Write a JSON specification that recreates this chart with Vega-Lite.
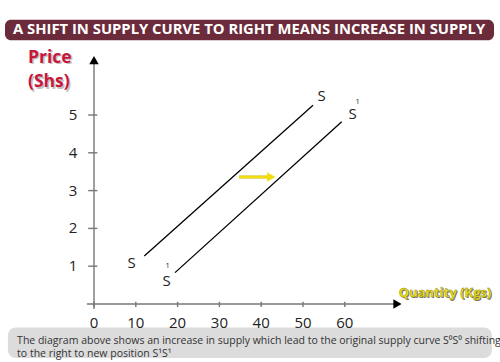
{
  "$schema": "https://vega.github.io/schema/vega-lite/v6.json",
  "width": 500,
  "height": 362,
  "padding": 0,
  "autosize": {"type": "none"},
  "background": "white",
  "config": {"view": {"stroke": null}},
  "datasets": {
    "banner": [{"x": -21.3, "x2": 95.7, "y": 7.52, "y2": 6.98}],
    "captionBox": [{"x": -20.6, "x2": 95.2, "y": -0.62, "y2": -1.43}],
    "title": [{"x": 37.1, "y": 7.25, "label": "A SHIFT IN SUPPLY CURVE TO RIGHT MEANS INCREASE IN SUPPLY"}],
    "axes": [
      {"x": 0, "x2": 0, "y": -0.13, "y2": 6.4},
      {"x": -1.7, "x2": 72, "y": 0, "y2": 0},
      {"x": -1.4, "x2": 0.8, "y": 1, "y2": 1},
      {"x": -1.4, "x2": 0.8, "y": 2, "y2": 2},
      {"x": -1.4, "x2": 0.8, "y": 3, "y2": 3},
      {"x": -1.4, "x2": 0.8, "y": 4, "y2": 4},
      {"x": -1.4, "x2": 0.8, "y": 5, "y2": 5},
      {"x": 0, "x2": 0, "y": -0.08, "y2": 0.06},
      {"x": 10, "x2": 10, "y": -0.08, "y2": 0.06},
      {"x": 20, "x2": 20, "y": -0.08, "y2": 0.06},
      {"x": 30, "x2": 30, "y": -0.08, "y2": 0.06},
      {"x": 40, "x2": 40, "y": -0.08, "y2": 0.06},
      {"x": 50, "x2": 50, "y": -0.08, "y2": 0.06},
      {"x": 60, "x2": 60, "y": -0.08, "y2": 0.06}
    ],
    "arrowUp": [{"x": 0, "y": 6.45}],
    "arrowRight": [{"x": 72.6, "y": 0}],
    "supply": [
      {"x": 12.03, "x2": 52.4, "y": 1.27, "y2": 5.26},
      {"x": 19.38, "x2": 59.26, "y": 0.83, "y2": 4.82}
    ],
    "xLabels": [
      {"x": 0, "y": -0.5, "label": "0"},
      {"x": 10, "y": -0.5, "label": "10"},
      {"x": 20, "y": -0.5, "label": "20"},
      {"x": 30, "y": -0.5, "label": "30"},
      {"x": 40, "y": -0.5, "label": "40"},
      {"x": 50, "y": -0.5, "label": "50"},
      {"x": 60, "y": -0.5, "label": "60"}
    ],
    "yLabels": [
      {"x": -5, "y": 1, "label": "1"},
      {"x": -5, "y": 2, "label": "2"},
      {"x": -5, "y": 3, "label": "3"},
      {"x": -5, "y": 4, "label": "4"},
      {"x": -5, "y": 5, "label": "5"}
    ],
    "sLabels": [
      {"x": 54.47, "y": 5.5, "label": "S"},
      {"x": 61.89, "y": 5.02, "label": "S"},
      {"x": 9.02, "y": 1.08, "label": "S"},
      {"x": 17.39, "y": 0.6, "label": "S"}
    ],
    "sups": [
      {"x": 63.1, "y": 5.34, "label": "1"},
      {"x": 17.63, "y": 1.0, "label": "1"}
    ],
    "yellowLine": [{"x": 34.7, "x2": 41.6, "y": 3.36, "y2": 3.36}],
    "yellowHead": [{"x": 42.4, "y": 3.36}],
    "priceLbl": [
      {"x": -15.8, "y": 6.52, "label": "Price"},
      {"x": -15.8, "y": 5.86, "label": "(Shs)"}
    ],
    "qtyLbl": [{"x": 84.0, "y": 0.29, "label": "Quantity (Kgs)"}],
    "caption": [
      {"x": -18.4, "y": -0.97, "label": "The diagram above shows an increase in supply which lead to  the original supply curve S⁰S⁰ shifting"},
      {"x": -18.4, "y": -1.32, "label": "to the right to new position S¹S¹"}
    ]
  },
  "encoding": {
    "x": {"field": "x", "type": "quantitative", "scale": {"domain": [-22.49, 97.13], "nice": false, "zero": false}, "axis": null},
    "y": {"field": "y", "type": "quantitative", "scale": {"domain": [-1.534, 8.042], "nice": false, "zero": false}, "axis": null}
  },
  "layer": [
    {"data": {"name": "banner"}, "mark": {"type": "rect", "color": "#6b2b3a", "cornerRadius": 6}, "encoding": {"x2": {"field": "x2"}, "y2": {"field": "y2"}}},
    {"data": {"name": "captionBox"}, "mark": {"type": "rect", "color": "#dcdcdc", "cornerRadius": 8}, "encoding": {"x2": {"field": "x2"}, "y2": {"field": "y2"}}},
    {"data": {"name": "title"}, "mark": {"type": "text", "color": "white", "font": "Open Sans", "fontWeight": "bold", "fontSize": 14.8, "align": "center", "baseline": "middle"}, "encoding": {"text": {"field": "label"}}},
    {"data": {"name": "axes"}, "mark": {"type": "rule", "color": "#777777", "strokeWidth": 1.4}, "encoding": {"x2": {"field": "x2"}, "y2": {"field": "y2"}}},
    {"data": {"name": "arrowUp"}, "mark": {"type": "point", "shape": "triangle-up", "filled": true, "color": "black", "size": 90, "opacity": 1}},
    {"data": {"name": "arrowRight"}, "mark": {"type": "point", "shape": "triangle-right", "filled": true, "color": "black", "size": 90, "opacity": 1}},
    {"data": {"name": "supply"}, "mark": {"type": "rule", "color": "black", "strokeWidth": 1.3}, "encoding": {"x2": {"field": "x2"}, "y2": {"field": "y2"}}},
    {"data": {"name": "xLabels"}, "mark": {"type": "text", "color": "#222222", "font": "Open Sans", "fontSize": 15, "align": "center", "baseline": "middle"}, "encoding": {"text": {"field": "label"}}},
    {"data": {"name": "yLabels"}, "mark": {"type": "text", "color": "#222222", "font": "Open Sans", "fontSize": 15, "align": "center", "baseline": "middle"}, "encoding": {"text": {"field": "label"}}},
    {"data": {"name": "sLabels"}, "mark": {"type": "text", "color": "#222222", "font": "Open Sans", "fontSize": 15, "align": "center", "baseline": "middle"}, "encoding": {"text": {"field": "label"}}},
    {"data": {"name": "sups"}, "mark": {"type": "text", "color": "#222222", "font": "Open Sans", "fontSize": 7.5, "align": "center", "baseline": "middle"}, "encoding": {"text": {"field": "label"}}},
    {"data": {"name": "yellowLine"}, "mark": {"type": "rule", "color": "#9a9a9a", "strokeWidth": 3, "dx": 1, "dy": 2, "opacity": 0.7}, "encoding": {"x2": {"field": "x2"}, "y2": {"field": "y2"}}},
    {"data": {"name": "yellowLine"}, "mark": {"type": "rule", "color": "#f2dc10", "strokeWidth": 3}, "encoding": {"x2": {"field": "x2"}, "y2": {"field": "y2"}}},
    {"data": {"name": "yellowHead"}, "mark": {"type": "point", "shape": "triangle-right", "filled": true, "color": "#f2dc10", "size": 90, "opacity": 1}},
    {"data": {"name": "priceLbl"}, "mark": {"type": "text", "color": "#999999", "font": "Open Sans", "fontWeight": "bold", "fontSize": 17.5, "align": "left", "baseline": "middle", "dx": 1.5, "dy": 1.5, "opacity": 0.6}, "encoding": {"text": {"field": "label"}}},
    {"data": {"name": "priceLbl"}, "mark": {"type": "text", "color": "#c8173c", "font": "Open Sans", "fontWeight": "bold", "fontSize": 17.5, "align": "left", "baseline": "middle"}, "encoding": {"text": {"field": "label"}}},
    {"data": {"name": "qtyLbl"}, "mark": {"type": "text", "color": "#555555", "font": "Open Sans", "fontWeight": "bold", "fontSize": 13, "align": "center", "baseline": "middle", "dx": 1, "dy": 1, "opacity": 0.8}, "encoding": {"text": {"field": "label"}}},
    {"data": {"name": "qtyLbl"}, "mark": {"type": "text", "color": "#eee31c", "font": "Open Sans", "fontWeight": "bold", "fontSize": 13, "align": "center", "baseline": "middle", "stroke": "#8a8000", "strokeWidth": 0.4}, "encoding": {"text": {"field": "label"}}},
    {"data": {"name": "caption"}, "mark": {"type": "text", "color": "#333333", "font": "Open Sans", "fontSize": 10.5, "align": "left", "baseline": "middle"}, "encoding": {"text": {"field": "label"}}}
  ]
}
